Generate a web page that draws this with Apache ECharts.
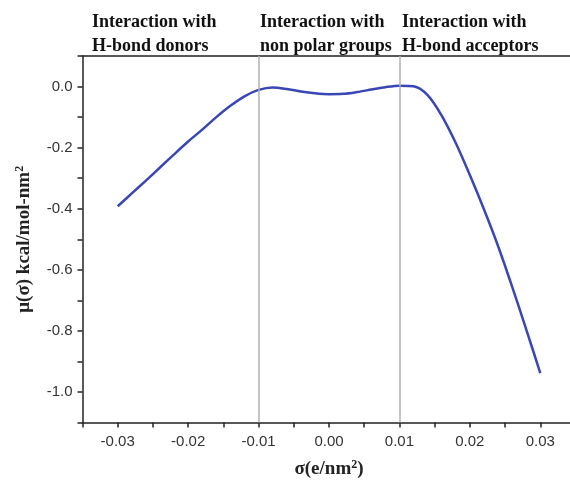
<!DOCTYPE html>
<html>
<head>
<meta charset="UTF-8"/>
<title>mu sigma</title>
<script src="https://cdn.jsdelivr.net/npm/echarts@6/dist/echarts.min.js"></script>
<style>
html,body{margin:0;padding:0;background:#fff;}
#main{width:570px;height:482px;}
</style>
</head>
<body>
<div id="main"></div>
<script>
// sigma (e/nm2) and mu(sigma)
var sigma = [-0.030, -0.028, -0.026, -0.024, -0.022, -0.020, -0.018, -0.016, -0.014, -0.012,
             -0.010, -0.008, -0.006, -0.004, -0.002, 0.000, 0.002, 0.004, 0.006, 0.008,
             0.010, 0.012, 0.014, 0.016, 0.018, 0.020, 0.022, 0.024, 0.026, 0.028,
             0.030];
var mu = [-0.392, -0.350, -0.308, -0.265, -0.222, -0.180, -0.141, -0.100, -0.063, -0.032,
          -0.011, -0.003, -0.008, -0.016, -0.022, -0.025, -0.024, -0.018, -0.010, -0.002,
          0.003, 0.001, -0.028, -0.095, -0.185, -0.290, -0.402, -0.522, -0.655, -0.795,
          -0.938];
var regionLines = [-0.01, 0.01];
var regionTitles = [
  ['Interaction with', 'H-bond donors'],
  ['Interaction with', 'non polar groups'],
  ['Interaction with', 'H-bond acceptors']
];
var titleX = [92, 260, 402];

var data = sigma.map(function (s, i) { return [s, mu[i]]; });

var chart = echarts.init(document.getElementById('main'));

var serif = '"Liberation Serif", "DejaVu Serif", serif';
var sans = '"Liberation Sans", Arial, sans-serif';

var titles = regionTitles.map(function (t, i) {
  return {
    type: 'text',
    left: titleX[i],
    top: 10,
    style: {
      text: t.join('\n'),
      font: 'bold 18px ' + serif,
      fill: '#111',
      lineHeight: 24
    }
  };
});

var nameStyle = {
  fontFamily: serif, fontWeight: 'bold', fontSize: 19, color: '#222',
  rich: { s: { fontFamily: serif, fontWeight: 'bold', fontSize: 12, verticalAlign: 'top', padding: [0, 0, 9, 0] } }
};

var option = {
  animation: false,
  backgroundColor: '#fff',
  grid: { left: 82.5, width: 493, top: 56, bottom: 59.5, outerBoundsMode: 'none', containLabel: false },
  graphic: titles,
  xAxis: [{
    type: 'value',
    min: -0.035,
    max: 0.035,
    interval: 0.005,
    name: 'σ(e/nm{s|2})',
    nameLocation: 'middle',
    nameGap: 36,
    nameTextStyle: nameStyle,
    axisLine: { onZero: false, lineStyle: { color: '#222', width: 1.5 } },
    axisTick: { inside: false, length: 5, lineStyle: { color: '#222', width: 1.5 } },
    splitLine: { show: false },
    axisLabel: {
      margin: 12,
      fontFamily: sans, fontSize: 15, color: '#333',
      formatter: function (v) {
        var k = Math.round(v * 1000);
        if (k % 10 !== 0) return '';
        return (k / 1000).toFixed(2);
      }
    }
  }, {
    type: 'value',
    position: 'top',
    min: -0.035,
    max: 0.035,
    axisLine: { show: true, onZero: false, lineStyle: { color: '#222', width: 1.5 } },
    axisTick: { show: false },
    axisLabel: { show: false },
    splitLine: { show: false }
  }],
  yAxis: {
    type: 'value',
    min: -1.1,
    max: 0.1,
    interval: 0.1,
    name: 'μ(σ) kcal/mol-nm{s|2}',
    nameLocation: 'middle',
    nameGap: 48,
    nameTextStyle: nameStyle,
    axisLine: { show: true, onZero: false, lineStyle: { color: '#222', width: 1.5 } },
    axisTick: { inside: false, length: 5, lineStyle: { color: '#222', width: 1.5 } },
    splitLine: { show: false },
    axisLabel: {
      margin: 10,
      fontFamily: sans, fontSize: 15, color: '#333',
      formatter: function (v) {
        var k = Math.round(v * 10);
        if (k % 2 !== 0) return '';
        return (k / 10).toFixed(1);
      }
    }
  },
  series: [{
    type: 'line',
    data: data,
    smooth: 0.3,
    showSymbol: false,
    lineStyle: { color: '#3846b6', width: 2.5 },
    markLine: {
      silent: true,
      symbol: 'none',
      label: { show: false },
      lineStyle: { color: '#b0b0b0', width: 1.5, type: 'solid' },
      data: regionLines.map(function (x) { return { xAxis: x }; })
    }
  }]
};

chart.setOption(option);
</script>
</body>
</html>
